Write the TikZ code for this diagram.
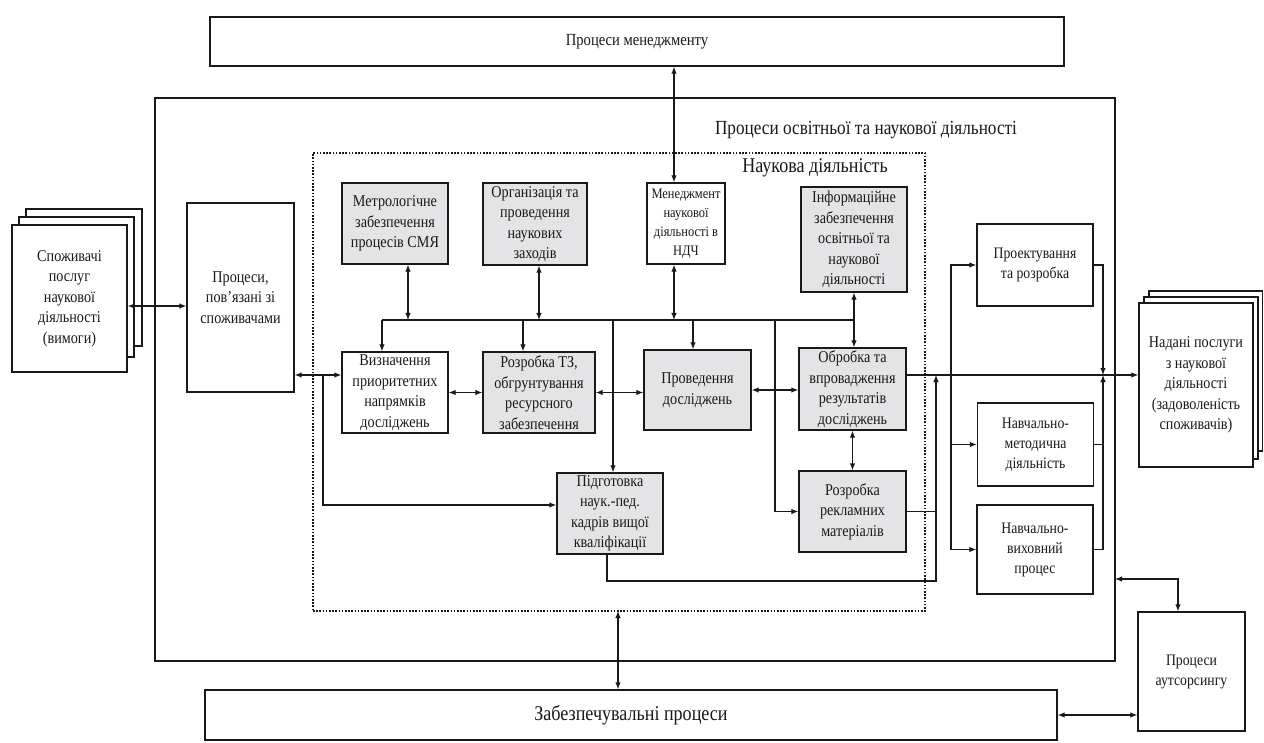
\documentclass[tikz,border=0pt]{standalone}
\usepackage{fontspec}
\setmainfont{Liberation Serif}[FakeStretch=0.86]
\usetikzlibrary{arrows.meta,calc}
\definecolor{boxgray}{RGB}{228,228,230}
\definecolor{ink}{RGB}{25,25,25}
\newcommand\bxf{\fontsize{16.5}{20.5}\selectfont}
\newcommand\rxf{\fontsize{16}{20}\selectfont}
\tikzset{
  box/.style={draw=ink, line width=1.4pt, align=center, inner sep=1pt, text=ink, font=\bxf},
  gbox/.style={box, fill=boxgray},
  rbox/.style={box, font=\rxf},
  conn/.style={draw=ink, line width=1.1pt},
  arr/.style={conn, -{Latex[length=7pt,width=5.5pt]}},
  dbl/.style={conn, {Latex[length=7pt,width=5.5pt]}-{Latex[length=7pt,width=5.5pt]}},
  lbl/.style={text=ink, inner sep=0pt},
}
\begin{document}
\begin{tikzpicture}[x=1pt,y=-1pt]
\useasboundingbox[fill=white] (0,0) rectangle (1264,743);

% frames
\node[draw=ink, line width=1.5pt, minimum width=960pt, minimum height=563pt, inner sep=0pt] (outer) at (635,379.5) {};
\node[draw=ink, line width=1.5pt, dash pattern=on 1.6pt off 1.6pt, minimum width=612pt, minimum height=458pt, inner sep=0pt] (dots) at (619,382) {};
\node[lbl, font=\fontsize{20}{24}\selectfont] (outerlbl) at (866,130) {Процеси освітньої та наукової діяльності};
\node[lbl, font=\fontsize{21}{24}\selectfont] (dotslbl) at (815,168) {Наукова діяльність};

% top and bottom boxes
\node[box, font=\fontsize{17}{20}\selectfont, minimum width=854pt, minimum height=49pt] (mtop) at (637,41.5) {Процеси менеджменту};
\node[box, font=\fontsize{21}{24}\selectfont, minimum width=852pt, minimum height=50pt] (zab) at (631,715) {Забезпечувальні процеси};

% left stack
\draw[ink, line width=1.2pt] (19,225) -- (19,217) -- (134,217) -- (134,357) -- (127,357);
\draw[ink, line width=1.2pt] (26,217) -- (26,209) -- (142,209) -- (142,346) -- (134,346);
\node[box, minimum width=115pt, minimum height=147pt, fill=white] (cons) at (69.5,298.5) {Споживачі\\послуг\\наукової\\діяльності\\(вимоги)};

% right stack
\draw[ink, line width=1.2pt] (1144,303) -- (1144,297) -- (1258,297) -- (1258,459) -- (1253,459);
\draw[ink, line width=1.2pt] (1149,297) -- (1149,291) -- (1262.5,291) -- (1262.5,451) -- (1258,451);
\node[box, minimum width=114pt, minimum height=164pt, fill=white] (nad) at (1196,385) {Надані послуги\\з наукової\\діяльності\\(задоволеність\\споживачів)};

% main boxes
\node[box, minimum width=107pt, minimum height=189pt] (proc) at (240.5,297.5) {Процеси,\\пов'язані зі\\споживачами};
\node[gbox, minimum width=106pt, minimum height=81pt] (metr) at (395,223.5) {Метрологічне\\забезпечення\\процесів СМЯ};
\node[gbox, minimum width=104pt, minimum height=82pt] (org) at (535,224) {Організація та\\проведення\\наукових\\заходів};
\node[box, font=\fontsize{14.5}{19}\selectfont, minimum width=78pt, minimum height=81pt] (men) at (686,223.5) {Менеджмент\\наукової\\діяльності в\\НДЧ};
\node[gbox, minimum width=106pt, minimum height=105pt] (inf) at (854,239.5) {Інформаційне\\забезпечення\\освітньої та\\наукової\\діяльності};
\node[box, minimum width=106pt, minimum height=81pt] (viz) at (395,392.5) {Визначення\\приоритетних\\напрямків\\досліджень};
\node[gbox, minimum width=112pt, minimum height=81pt] (roztz) at (539,392.5) {Розробка ТЗ,\\обгрунтування\\ресурсного\\забезпечення};
\node[gbox, minimum width=107pt, minimum height=80pt] (prov) at (697.5,390) {Проведення\\досліджень};
\node[gbox, minimum width=107pt, minimum height=82pt] (obr) at (852.5,389) {Обробка та\\впровадження\\результатів\\досліджень};
\node[gbox, minimum width=106pt, minimum height=81pt] (pidg) at (610,513.5) {Підготовка\\наук.-пед.\\кадрів вищої\\кваліфікації};
\node[gbox, minimum width=107pt, minimum height=81pt] (rozrek) at (852.5,511.5) {Розробка\\рекламних\\матеріалів};

% right column
\node[rbox, minimum width=116pt, minimum height=82pt] (proj) at (1035,265) {Проектування\\та розробка};
\node[rbox, minimum width=116pt, minimum height=83pt] (metod) at (1035.5,444.5) {Навчально-\\методична\\діяльність};
\node[rbox, minimum width=116pt, minimum height=89pt] (vyh) at (1035,549.5) {Навчально-\\виховний\\процес};
\node[rbox, minimum width=107pt, minimum height=119pt] (aut) at (1191.5,671.5) {Процеси\\аутсорсингу};

% bus
\coordinate (bL) at (382,320);
\coordinate (bR) at (855,320);
\coordinate (b2) at (523,320);
\coordinate (b3) at (693,320);
\coordinate (b4) at (613,320);
\coordinate (b5) at (775,320);
\draw[conn] (bL) -- (bR);

\coordinate (m1) at ([xshift=13pt]metr.south);
\draw[dbl] (m1) -- (m1 |- bL);
\coordinate (o1) at ([xshift=4pt]org.south);
\draw[dbl] (o1) -- (o1 |- bL);
\coordinate (me1) at ([xshift=-12pt]men.south);
\draw[dbl] (me1) -- (me1 |- bL);
\draw[dbl] (inf.south) -- (inf.south |- obr.north);

\draw[arr] (bL) -- (bL |- viz.north);
\draw[arr] (b2) -- (b2 |- roztz.north);
\draw[arr] (b3) -- (b3 |- prov.north);
\draw[arr] (b4) -- (b4 |- pidg.north);
\draw[arr] (b5) |- (rozrek.west);

% management link
\draw[dbl] (mtop.south -| me1) -- (me1 |- men.north);

% consumers
\coordinate (c1) at ([yshift=-7.5pt]cons.east);
\draw[dbl] (c1) -- (c1 -| proc.west);
\coordinate (p1) at ([yshift=-77.5pt]proc.east);
\draw[dbl] (p1) -- (p1 -| viz.west);
\coordinate (j1) at (323,375);
\coordinate (pw) at ([yshift=8.5pt]pidg.west);
\draw[arr] (j1) |- (pw);

% row links
\draw[dbl] (viz.east) -- (roztz.west);
\draw[dbl] (roztz.east) -- (roztz.east -| prov.west);
\draw[dbl] (prov.east) -- (prov.east -| obr.west);
\draw[dbl] (obr.south) -- (obr.south |- rozrek.north);

% output line
\coordinate (o2) at ([yshift=14pt]obr.east);
\draw[arr] (o2) -- (o2 -| nad.west);
\coordinate (j2) at (936,375);
\coordinate (j3) at (936,581);
\coordinate (pb) at ([xshift=-3pt]pidg.south);
\draw[arr] (pb) |- (j3) -- (j2);
\draw[conn] (rozrek.east) -- (rozrek.east -| j2);

% right column feeds
\coordinate (k1) at (951,375);
\draw[arr] (k1) |- (proj.west);
\draw[arr] (k1) |- (vyh.west);
\draw[arr] (k1 |- metod.west) -- (metod.west);
\coordinate (r1) at (1103,375);
\draw[arr] (proj.east) -| (r1);
\draw[arr] (vyh.east) -| (r1);
\draw[conn] (metod.east) -- (metod.east -| r1);

% outsourcing
\coordinate (a1) at ([xshift=-13.5pt]aut.north);
\coordinate (oR) at (1115,579);
\draw[dbl] (a1) |- (oR);
\draw[dbl] (zab.east) -- (zab.east -| aut.west);

% support link
\coordinate (d1) at (618,611);
\draw[dbl] (d1) -- (d1 |- zab.north);
\end{tikzpicture}
\end{document}
